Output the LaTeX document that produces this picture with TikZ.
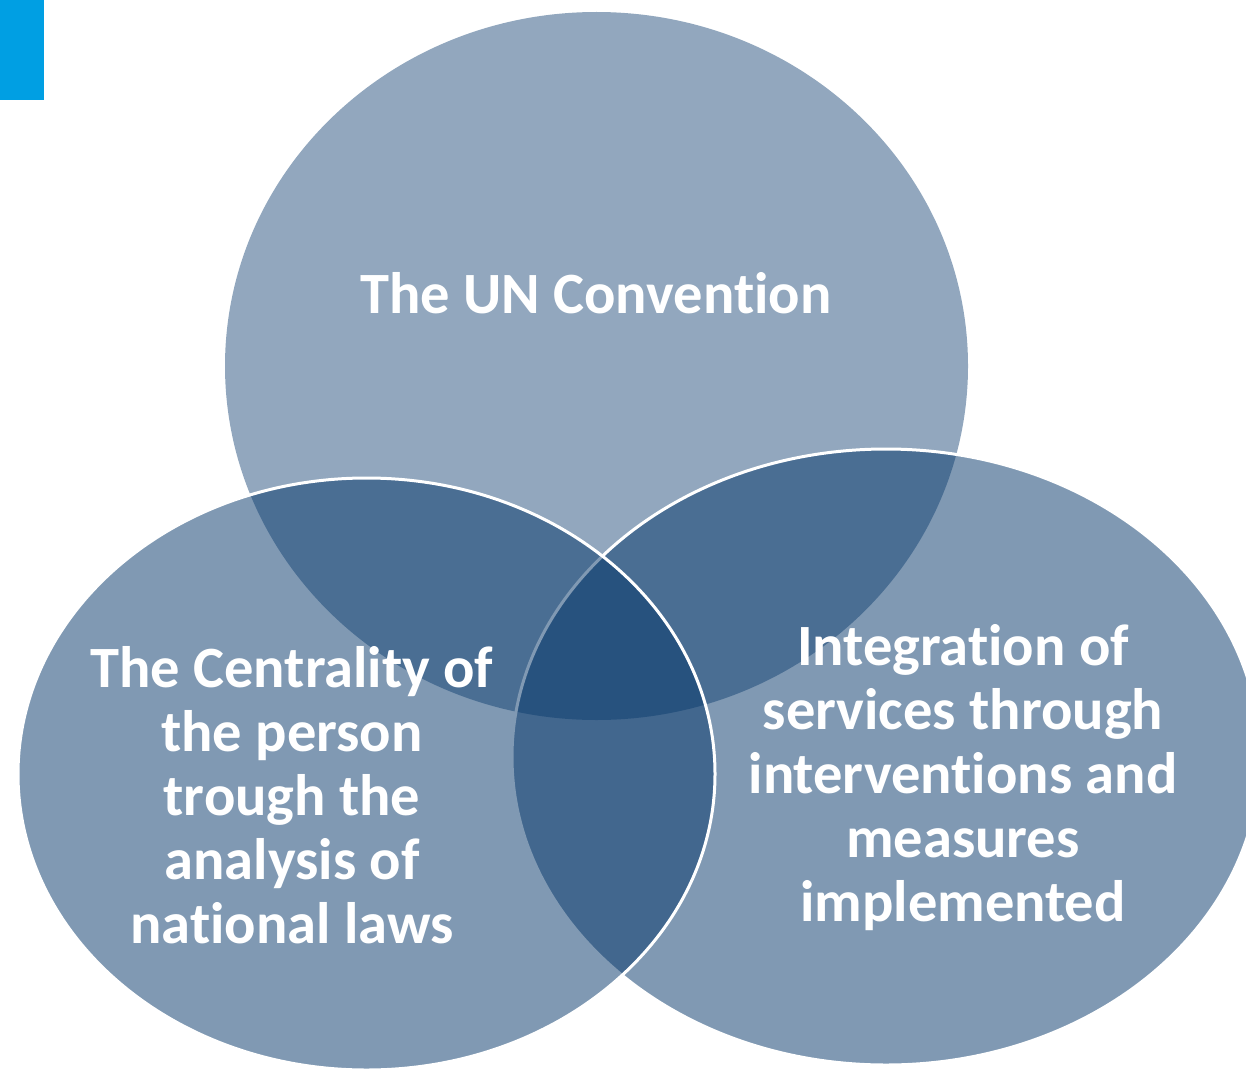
\documentclass[tikz,border=0pt]{standalone}
\usepackage{fontspec}
\setmainfont{Carlito}[Ligatures=NoCommon]
\usepackage{tikz}

\definecolor{vennblue}{RGB}{6,55,106}
\definecolor{tabblue}{RGB}{0,159,227}

\tikzset{
  topset/.style={fill=vennblue, fill opacity=0.44},
  sideset/.style={fill=vennblue, fill opacity=0.51, draw=white, draw opacity=1, line width=3},
  settext/.style={text=white, font=\fontsize{58.5}{64}\selectfont\bfseries, align=center}
}

\begin{document}
\begin{tikzpicture}[x=1pt, y=-1pt]
  \useasboundingbox (0,0) rectangle (1246,1070);
  % Corner tab
  \fill[tabblue] (0,0) rectangle (44,100);
  % The three sets
  \path[topset]  (596.5,366) ellipse (371.5 and 354);
  \path[sideset] (886,757)   ellipse (374 and 308);
  \path[sideset] (366.5,774) ellipse (348.5 and 296);
  % Labels
  \node[settext] (convention) at (596,293) {The UN Convention};
  \node[settext] (person) at (292,795) {The Centrality of\\the person\\trough the\\analysis of\\national laws};
  \node[settext] (services) at (963,778) {Integration of\\services through\\interventions and\\measures\\implemented};
\end{tikzpicture}
\end{document}
